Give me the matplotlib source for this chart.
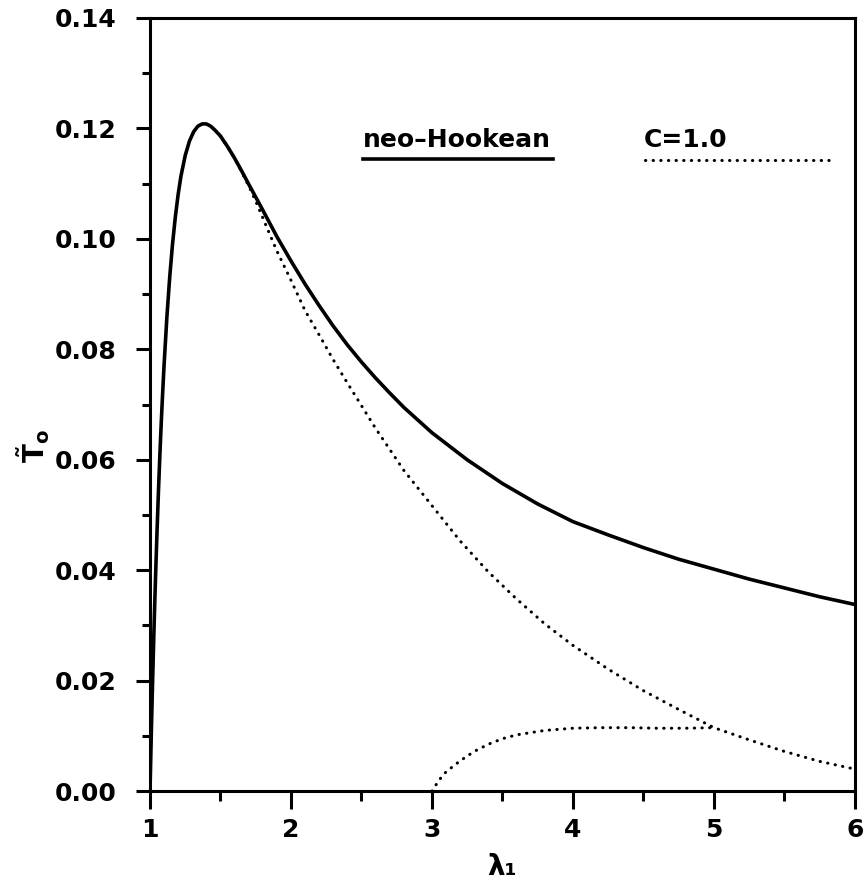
import matplotlib
matplotlib.use("Agg")
import matplotlib.pyplot as plt
from matplotlib.ticker import MultipleLocator

# neo-Hookean curve (solid)
lam_nh = [1.0, 1.01, 1.02, 1.03, 1.04, 1.05, 1.06, 1.07, 1.08, 1.09, 1.1,
          1.12, 1.14, 1.16, 1.18, 1.2, 1.22, 1.25, 1.28, 1.31, 1.34, 1.37,
          1.4, 1.43, 1.46, 1.5, 1.55, 1.6, 1.65, 1.7, 1.8, 1.9, 2.0, 2.1,
          2.2, 2.3, 2.4, 2.5, 2.6, 2.7, 2.8, 2.9, 3.0, 3.25, 3.5, 3.75, 4.0,
          4.25, 4.5, 4.75, 5.0, 5.25, 5.5, 5.75, 6.0]
T_nh = [0.0, 0.0112, 0.0214, 0.0308, 0.0393, 0.0471, 0.0543, 0.0608, 0.0668,
        0.0722, 0.0772, 0.0859, 0.0931, 0.0991, 0.1040, 0.1081, 0.1114,
        0.1151, 0.1177, 0.1194, 0.1204, 0.1208, 0.1208, 0.1204, 0.1197,
        0.1186, 0.1167, 0.1146, 0.1123, 0.1099, 0.1052, 0.1004, 0.0960,
        0.0918, 0.0879, 0.0842, 0.0808, 0.0777, 0.0748, 0.0721, 0.0695,
        0.0672, 0.0649, 0.0600, 0.0557, 0.0520, 0.0488, 0.0464, 0.0441,
        0.0420, 0.0402, 0.0384, 0.0368, 0.0352, 0.0338]

# C=1.0, upper branch (dotted)
lam_c1 = [1.5, 1.55, 1.6, 1.65, 1.7, 1.75, 1.8, 1.9, 2.0, 2.1, 2.2, 2.3, 2.4,
          2.5, 2.6, 2.8, 3.0, 3.2, 3.4, 3.6, 3.8, 4.0, 4.25, 4.5, 4.75, 5.0,
          5.25, 5.5, 5.75, 6.0]
T_c1 = [0.1186, 0.1167, 0.1146, 0.1121, 0.1096, 0.1068, 0.1038, 0.0978,
        0.0925, 0.0870, 0.0826, 0.0781, 0.0739, 0.0698, 0.0657, 0.0581,
        0.0517, 0.0453, 0.0397, 0.0348, 0.0303, 0.0264, 0.0221, 0.0182,
        0.0148, 0.0115, 0.0093, 0.0072, 0.0054, 0.0040]

# C=1.0, lower branch (dotted)
lam_c1b = [3.0, 3.05, 3.1, 3.2, 3.3, 3.4, 3.5, 3.6, 3.8, 4.0, 4.2, 4.4, 4.6,
           4.8, 5.0]
T_c1b = [0.0, 0.0020, 0.0035, 0.0055, 0.0072, 0.0085, 0.0095, 0.0102, 0.0110,
         0.0114, 0.0115, 0.0115, 0.0114, 0.0114, 0.0115]

plt.rcParams['font.family'] = ['DejaVu Sans']
plt.rcParams['font.weight'] = 'bold'

fig = plt.figure(figsize=(8.67, 8.93), dpi=100)
ax = fig.add_axes([0.173, 0.114, 0.813, 0.866])

dot = (0, (0.1, 2.4))
ax.plot(lam_nh, T_nh, color='black', lw=2.6, solid_capstyle='round',
        solid_joinstyle='round')
ax.plot(lam_c1, T_c1, color='black', lw=2.2, linestyle=dot,
        dash_capstyle='round')
ax.plot(lam_c1b, T_c1b, color='black', lw=2.2, linestyle=dot,
        dash_capstyle='round')

# legend-like annotations
ax.text(2.51, 0.1158, 'neo\u2013Hookean', fontsize=18, fontweight='bold',
        ha='left', va='bottom')
ax.plot([2.51, 3.86], [0.1145, 0.1145], color='black', lw=2.6)
ax.text(4.50, 0.1158, 'C=1.0', fontsize=18, fontweight='bold',
        ha='left', va='bottom')
ax.plot([4.51, 5.86], [0.1143, 0.1143], color='black', lw=2.2,
        linestyle=dot, dash_capstyle='round')

ax.set_xlim(1, 6)
ax.set_ylim(0, 0.14)
ax.xaxis.set_major_locator(MultipleLocator(1))
ax.xaxis.set_minor_locator(MultipleLocator(0.5))
ax.yaxis.set_major_locator(MultipleLocator(0.02))
ax.yaxis.set_minor_locator(MultipleLocator(0.01))
ax.set_yticklabels(['%.2f' % v for v in ax.get_yticks()])

ax.tick_params(axis='both', which='both', direction='out', width=2.2,
               top=False, right=False, labelsize=18)
ax.tick_params(axis='y', which='major', length=10, pad=14)
ax.tick_params(axis='y', which='minor', length=6)
ax.tick_params(axis='x', which='major', length=13, pad=6)
ax.tick_params(axis='x', which='minor', length=7)
for lab in ax.get_xticklabels() + ax.get_yticklabels():
    lab.set_fontweight('bold')

for s in ax.spines.values():
    s.set_linewidth(2.2)

ax.set_xlabel('\u03bb\u2081', fontsize=20, fontweight='bold', labelpad=8)
fig.text(0.038, 0.50, r'$\tilde{\mathbf{T}}_{\mathbf{o}}$', fontsize=20,
         rotation=90, ha='center', va='center')

fig.savefig('out.png', dpi=100)
